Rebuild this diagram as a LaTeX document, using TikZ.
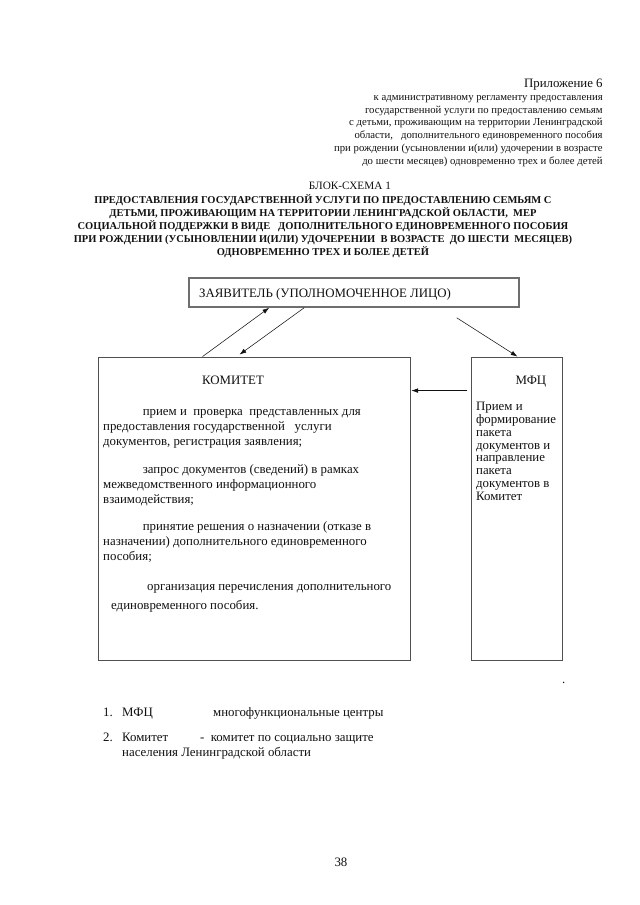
\documentclass[tikz,border=0pt]{standalone}
\usepackage{fontspec}
\setmainfont{Liberation Serif}
\usetikzlibrary{arrows.meta,calc,fit}
\definecolor{bsink}{HTML}{111111}
\definecolor{bsframe}{HTML}{505050}
\definecolor{bshead}{HTML}{6E6E6E}
\tikzset{
  bs box/.style={draw=bsframe, line width=0.8pt, inner sep=0pt},
  bs head/.style={draw=bshead, line width=1.4pt, inner sep=0pt},
  bs arrow/.style={-{Latex[length=2.2mm,width=1.5mm]}, line width=0.5pt, draw=bsink},
  bs text/.style={font=\fontsize{12}{14}\selectfont, inner sep=0pt, align=left},
  bs mfc/.style={font=\fontsize{12}{11.9}\selectfont, inner sep=0pt, align=left},
  bs note/.style={font=\fontsize{10}{11.9}\selectfont, inner sep=0pt, align=right},
  bs title/.style={font=\fontsize{9.8}{12.1}\selectfont\bfseries, inner sep=0pt, align=center}
}
\newcommand{\bsindent}{\hspace*{13mm}}

\begin{document}
\begin{tikzpicture}[x=0.328125mm, y=-0.32818mm, text=bsink]
  \useasboundingbox[fill=white] (0,0) rectangle (640,905);

  % heading of the appendix (multi-line nodes sit on their last line)
  \node[bs text, anchor=base east] (appno) at (603,87) {Приложение 6};
  \node[bs note, anchor=base east] (appref) at (603,164) {к административному регламенту предоставления\\
    государственной услуги по предоставлению семьям\\
    с детьми, проживающим на территории Ленинградской\\
    области,\enspace\ дополнительного единовременного пособия\\
    при рождении (усыновлении и(или) удочерении в возрасте\\
    до шести месяцев) одновременно трех и более детей};

  \node[font=\fontsize{10.5}{13}\selectfont, inner sep=0pt, anchor=base] (schema) at (350,189) {БЛОК-СХЕМА 1};
  \node[bs title, anchor=base] (title) at (323,255) {ПРЕДОСТАВЛЕНИЯ ГОСУДАРСТВЕННОЙ УСЛУГИ ПО ПРЕДОСТАВЛЕНИЮ СЕМЬЯМ С\\
    ДЕТЬМИ, ПРОЖИВАЮЩИМ НА ТЕРРИТОРИИ ЛЕНИНГРАДСКОЙ ОБЛАСТИ,\enspace МЕР\\
    СОЦИАЛЬНОЙ ПОДДЕРЖКИ В ВИДЕ\enspace\ ДОПОЛНИТЕЛЬНОГО ЕДИНОВРЕМЕННОГО ПОСОБИЯ\\
    ПРИ РОЖДЕНИИ (УСЫНОВЛЕНИИ И(ИЛИ) УДОЧЕРЕНИИ\ \ В ВОЗРАСТЕ\ \ ДО ШЕСТИ\ \ МЕСЯЦЕВ)\\
    ОДНОВРЕМЕННО ТРЕХ И БОЛЕЕ ДЕТЕЙ};

  % boxes
  \node[bs head, fit={(189,278) (519,307)}] (zayav) {};
  \node[bs box, fit={(98,357) (411,660)}] (komitet) {};
  \node[bs box, fit={(472,357) (563,660)}] (mfc) {};

  \node[bs text, anchor=base west] (zayavtxt) at (199,297) {ЗАЯВИТЕЛЬ (УПОЛНОМОЧЕННОЕ ЛИЦО)};
  \node[bs text, anchor=base] (komtitle) at (233,384) {КОМИТЕТ};
  \node[bs text, anchor=base] (mfctitle) at (531,384) {МФЦ};

  \node[bs text, anchor=base west] (kom1) at (103,445) {\bsindent прием и\ \ проверка\ \ представленных для\\
    предоставления государственной\enspace\ услуги\\
    документов, регистрация заявления;};
  \node[bs text, anchor=base west] (kom2) at (103,503) {\bsindent запрос документов (сведений) в рамках\\
    межведомственного информационного\\
    взаимодействия;};
  \node[bs text, anchor=base west] (kom3) at (103,560) {\bsindent принятие решения о назначении (отказе в\\
    назначении) дополнительного единовременного\\
    пособия;};
  \node[bs text, anchor=base west] (kom4) at (111,609) {\hspace*{11.8mm}организация перечисления дополнительного\\[1mm]
    единовременного пособия.};

  \node[bs mfc, anchor=base west] (mfctxt) at (476,500) {Прием и\\ формирование\\ пакета\\ документов и\\
    направление\\ пакета\\ документов в\\ Комитет};

  % connectors
  \draw[bs arrow] ($(komitet.north west)+(105,0)$) -- ($(zayav.south west)+(81,0)$);
  \draw[bs arrow] ($(zayav.south west)+(116,0)$) -- ($(komitet.north west)+(142,-2)$);
  \draw[bs arrow] ($(zayav.south east)+(-63,10)$) -- ($(mfc.north west)+(46,0)$);
  \draw[bs arrow] ($(mfc.north west)+(-4,34)$) -- ($(komitet.north east)+(0,34)$);

  % legend
  \node[bs text, anchor=base west] (dot) at (562,683) {.};
  \node[bs text, anchor=base west] (leg1) at (103,716) {1.};
  \node[bs text, anchor=base west] (leg1a) at (122,716) {МФЦ};
  \node[bs text, anchor=base west] (leg1b) at (213,716) {многофункциональные центры};
  \node[bs text, anchor=base west] (leg2) at (103,741) {2.};
  \node[bs text, anchor=base west] (leg2a) at (122,756) {Комитет\\ населения Ленинградской области};
  \node[bs text, anchor=base west] (leg2b) at (200,741) {-\ \ комитет по социально защите};

  \node[bs text, anchor=base] (page) at (341,866) {38};
\end{tikzpicture}
\end{document}
